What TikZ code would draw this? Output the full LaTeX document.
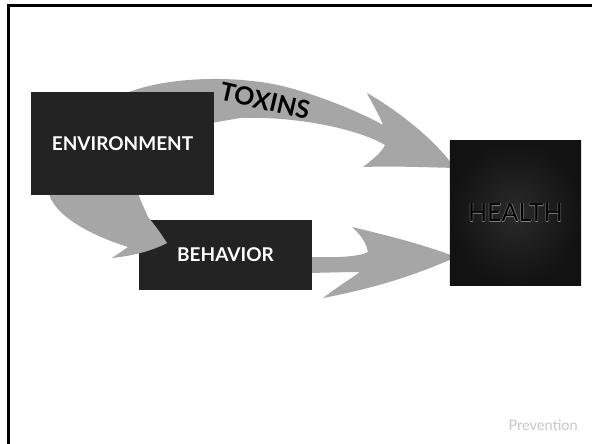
\documentclass[tikz,border=0pt]{standalone}
\usepackage{fontspec}
\setmainfont{Lato}
\definecolor{boxgray}{HTML}{232323}
\definecolor{arrowgray}{HTML}{A6A6A6}
\definecolor{healthout}{HTML}{121212}
\definecolor{healthin}{HTML}{2A2A2A}

\begin{document}
\begin{tikzpicture}[x=1pt,y=-1pt,
  box/.style={fill=boxgray,text=white,inner sep=0pt,
    font=\bfseries\fontsize{19}{21}\selectfont},
  bigarrow/.style={fill=arrowgray}]
\useasboundingbox (0,0) rectangle (592,444);
\fill[white] (0,0) rectangle (592,444);
\draw[line width=3pt] (8.5,444) -- (8.5,5.3) -- (592,5.3);

% arrow over the top, environment to health
\fill[bigarrow] (120,96) .. controls (160,76) and (240,74) .. (290,88)
  .. controls (320,96) and (360,112) .. (383,125)
  .. controls (378,112) and (370,100) .. (367,93)
  .. controls (400,112) and (435,140) .. (455,168)
  .. controls (420,167) and (390,166) .. (363,167)
  .. controls (372,160) and (382,152) .. (385,145)
  .. controls (360,130) and (300,116) .. (240,118)
  -- (200,125) -- cycle;

% arrow from behavior to health
\fill[bigarrow] (300,257) -- (340,257) .. controls (355,256) and (362,255) .. (368,252)
  .. controls (366,242) and (360,234) .. (352,227)
  .. controls (390,236) and (425,245) .. (456,257)
  .. controls (410,278) and (365,290) .. (323,298)
  .. controls (340,285) and (352,278) .. (360,272)
  .. controls (340,272) and (320,273) .. (300,273) -- cycle;

\node[box,minimum width=173pt,minimum height=70pt] (behavior) at (225.5,255) {BEHAVIOR};

% arrow from environment down to behavior
\fill[bigarrow] (48,190) .. controls (52,215) and (90,235) .. (128,247)
  -- (112,258) .. controls (130,256) and (150,252) .. (167,243)
  .. controls (160,232) and (154,224) .. (148,217)
  .. controls (145,210) and (140,200) .. (137,190) -- cycle;

\node[box,minimum width=183pt,minimum height=103pt] (environment) at (122.5,143.5) {ENVIRONMENT};

\node[fill=healthout,minimum width=131pt,minimum height=144pt,inner sep=0pt] (health) at (515.5,213) {};
\shade[inner color=healthin,outer color=healthout] (health.north west) rectangle (health.south east);
\foreach \dx/\dy in {0.6/0,-0.6/0,0/0.6,0/-0.6}
  \node[text=gray,font=\fontsize{25}{27}\selectfont] at ([xshift=\dx pt,yshift=\dy pt]health.center) {HEALTH};
\node[text=black,font=\fontsize{25}{27}\selectfont] (healthtext) at (health.center) {HEALTH};

\node[rotate=-13,font=\bfseries\fontsize{25}{27}\selectfont] (toxins) at (265,101) {TOXINS};

\node[text=black!22,anchor=south east,inner sep=0pt,font=\fontsize{14.5}{16}\selectfont] (prevention) at (578,431) {Prevention};
\end{tikzpicture}
\end{document}
